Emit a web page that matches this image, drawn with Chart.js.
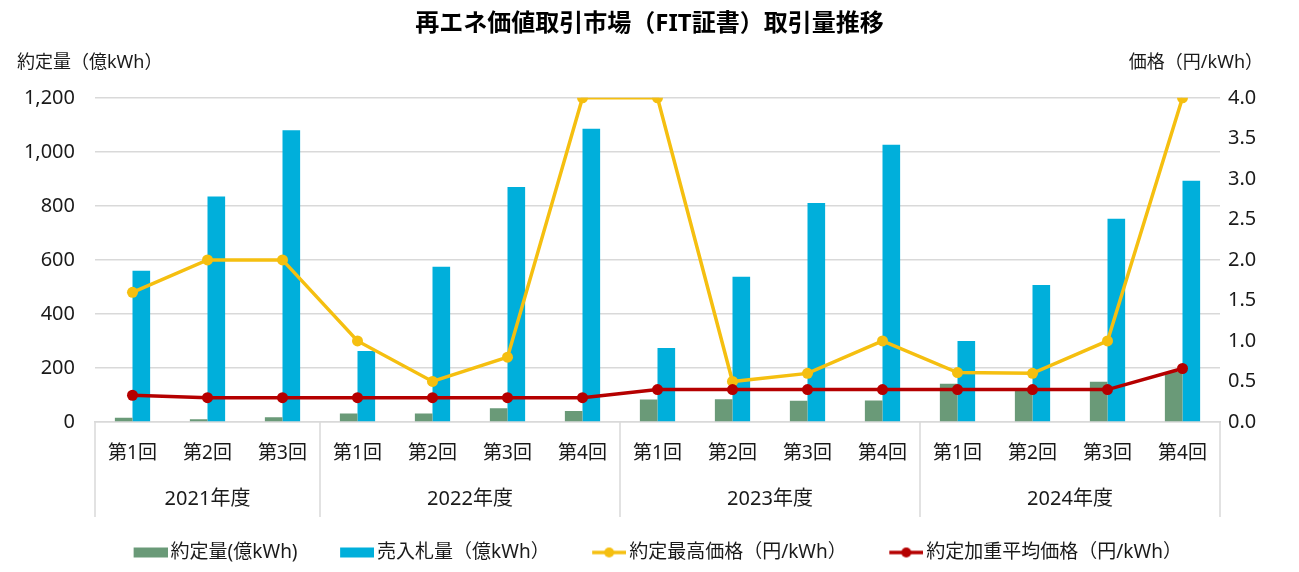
<!DOCTYPE html>
<html>
<head>
<meta charset="utf-8">
<script src="https://cdn.jsdelivr.net/npm/chart.js@4/dist/chart.umd.min.js"></script>
<style>
  html, body { margin: 0; padding: 0; background: #fff; }
  #wrap { width: 1299px; height: 572px; }
</style>
</head>
<body>
<div id="wrap"><canvas id="chart"></canvas></div>
<script>
// data
const years = ['2021年度', '2022年度', '2023年度', '2024年度'];
const roundsPerYear = [3, 4, 4, 4];
const rounds = ['第1回', '第2回', '第3回',
                '第1回', '第2回', '第3回', '第4回',
                '第1回', '第2回', '第3回', '第4回',
                '第1回', '第2回', '第3回', '第4回'];
const contractVolume = [16, 10, 18, 31, 31, 51, 41, 83, 84, 79, 80, 142, 118, 149, 185];
const bidVolume = [560, 835, 1080, 263, 575, 870, 1085, 274, 538, 811, 1026, 300, 507, 752, 893];
const maxPrice = [1.6, 2.0, 2.0, 1.0, 0.5, 0.8, 4.0, 4.0, 0.5, 0.6, 1.0, 0.61, 0.6, 1.0, 4.0];
const avgPrice = [0.33, 0.30, 0.30, 0.30, 0.30, 0.30, 0.30, 0.40, 0.40, 0.40, 0.40, 0.40, 0.40, 0.40, 0.66];
const leftMax = 1200, leftStep = 200;
const rightMax = 4.0, rightStep = 0.5;

const GREEN = '#6a9a78', BLUE = '#00afdb', YELLOW = '#f5bf10', RED = '#b50000';
const TEXT = '#1a1a1a', GRID = '#d9d9d9';
const FONT = '"Noto Sans", "Noto Sans CJK JP", sans-serif';

Chart.defaults.font.family = FONT;
Chart.defaults.color = TEXT;

// legend markers: canvas is wider than the marker so the marker sits close to its text
function makeMarker(draw) {
  const c = document.createElement('canvas');
  c.width = 57; c.height = 14;
  draw(c.getContext('2d'));
  return c;
}
const boxMarker = color => makeMarker(g => {
  g.fillStyle = color;
  g.fillRect(23, 2, 34, 10);
});
const lineMarker = color => makeMarker(g => {
  g.strokeStyle = color; g.lineWidth = 3.5;
  g.beginPath(); g.moveTo(23, 7); g.lineTo(57, 7); g.stroke();
  g.fillStyle = color;
  g.beginPath(); g.arc(40, 7, 5, 0, Math.PI * 2); g.fill();
});
const markers = [boxMarker(GREEN), boxMarker(BLUE), lineMarker(YELLOW), lineMarker(RED)];

const groupPlugin = {
  id: 'groups',
  afterDraw(chart) {
    const { ctx, chartArea } = chart;
    const x = chart.scales.x;
    const half = (x.getPixelForValue(1) - x.getPixelForValue(0)) / 2;
    ctx.save();
    ctx.strokeStyle = GRID;
    ctx.lineWidth = 1.5;
    ctx.fillStyle = TEXT;
    ctx.font = '20px ' + FONT;
    ctx.textAlign = 'center';
    ctx.textBaseline = 'middle';
    let start = 0;
    years.forEach((yr, i) => {
      const end = start + roundsPerYear[i];
      const left = x.getPixelForValue(start) - half;
      const right = x.getPixelForValue(end - 1) + half;
      ctx.beginPath();
      ctx.moveTo(left, chartArea.bottom);
      ctx.lineTo(left, x.bottom);
      if (i === years.length - 1) {
        ctx.moveTo(right, chartArea.bottom);
        ctx.lineTo(right, x.bottom);
      }
      ctx.stroke();
      ctx.fillText(yr, (left + right) / 2, chartArea.bottom + 77);
      start = end;
    });
    // axis titles
    ctx.font = '18px ' + FONT;
    ctx.textAlign = 'left';
    ctx.fillText('約定量（億kWh）', 17, chartArea.top - 35);
    ctx.textAlign = 'right';
    ctx.fillText('価格（円/kWh）', 1263, chartArea.top - 35);
    ctx.restore();
  }
};

new Chart(document.getElementById('chart'), {
  data: {
    labels: rounds,
    datasets: [
      { type: 'bar', label: '約定量(億kWh)', data: contractVolume, backgroundColor: GREEN,
        yAxisID: 'y', order: 2, categoryPercentage: 0.47, barPercentage: 1 },
      { type: 'bar', label: '売入札量（億kWh）', data: bidVolume, backgroundColor: BLUE,
        yAxisID: 'y', order: 3, categoryPercentage: 0.47, barPercentage: 1 },
      { type: 'line', label: '約定最高価格（円/kWh）', data: maxPrice, borderColor: YELLOW,
        backgroundColor: YELLOW, borderWidth: 3.5, pointRadius: 5.5, pointBorderWidth: 0,
        tension: 0, yAxisID: 'y1', order: 1 },
      { type: 'line', label: '約定加重平均価格（円/kWh）', data: avgPrice, borderColor: RED,
        backgroundColor: RED, borderWidth: 3.5, pointRadius: 5.5, pointBorderWidth: 0,
        tension: 0, yAxisID: 'y1', order: 0 }
    ]
  },
  options: {
    responsive: true,
    maintainAspectRatio: false,
    animation: false,
    layout: { padding: { left: 0, right: 0, top: 0, bottom: 0 } },
    scales: {
      x: {
        grid: { display: false, drawTicks: false },
        border: { display: true, color: GRID, width: 1.5 },
        ticks: { font: { size: 19 }, color: TEXT, padding: 20, autoSkip: false, maxRotation: 0 },
        afterFit(s) { s.height = 95; }
      },
      y: {
        position: 'left',
        min: 0, max: leftMax,
        ticks: { stepSize: leftStep, font: { size: 20 }, color: TEXT, padding: 20,
                 callback: v => v.toLocaleString('en-US') },
        grid: { color: GRID, lineWidth: 1.5, drawTicks: false },
        border: { display: false },
        afterFit(s) { s.width = 95; }
      },
      y1: {
        position: 'right',
        min: 0, max: rightMax,
        ticks: { stepSize: rightStep, font: { size: 20 }, color: TEXT, padding: 8,
                 callback: v => v.toFixed(1) },
        grid: { display: false, drawTicks: false },
        border: { display: false },
        afterFit(s) { s.width = 79; }
      }
    },
    plugins: {
      title: {
        display: true,
        text: '再エネ価値取引市場（FIT証書）取引量推移',
        font: { size: 24, weight: 'bold' },
        color: '#000',
        padding: { top: 10, bottom: 59 }
      },
      legend: {
        position: 'bottom',
        labels: {
          font: { size: 19 },
          color: TEXT,
          usePointStyle: true,
          pointStyleWidth: 44,
          padding: 26,
          generateLabels(chart) {
            return chart.data.datasets.map((ds, i) => ({
              text: ds.label, pointStyle: markers[i], datasetIndex: i,
              fillStyle: 'transparent', strokeStyle: 'transparent', lineWidth: 0,
              fontColor: TEXT, hidden: false
            }));
          }
        }
      },
      tooltip: { enabled: false }
    }
  },
  plugins: [groupPlugin]
});
</script>
</body>
</html>
